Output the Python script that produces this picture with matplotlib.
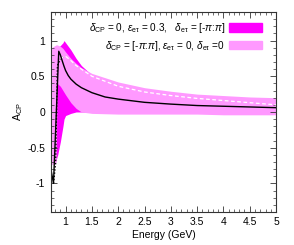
import numpy as np
import matplotlib.pyplot as plt
from matplotlib.ticker import MultipleLocator
from matplotlib.patches import Patch

plt.rcParams['font.family'] = ['Liberation Sans', 'DejaVu Sans']
plt.rcParams['mathtext.fontset'] = 'custom'
plt.rcParams['mathtext.rm'] = 'Liberation Sans'
plt.rcParams['mathtext.it'] = 'Liberation Sans:italic'

# band 1: delta_CP = 0, eps = 0.3, delta_et over [-pi:pi]  (dark magenta)
e_dark = [0.78, 0.80, 0.85, 0.90, 0.95, 0.97, 1.00, 1.10, 1.20, 1.30, 1.45, 1.60, 2.0, 3.0, 4.0, 5.0]
dark_lo = [-0.74, -0.72, -0.60, -0.42, -0.20, -0.10, -0.05, -0.02, 0.0, 0.0, 0.0, 0.0, 0.0, 0.0, 0.0, 0.0]
dark_hi = [0.80, 0.85, 0.90, 0.93, 0.97, 1.00, 0.97, 0.87, 0.75, 0.65, 0.55, 0.48, 0.38, 0.25, 0.19, 0.15]

# band 2: delta_CP over [-pi:pi], eps = 0, delta_et = 0  (light pink)
e_light = [0.735, 0.75, 0.80, 0.82, 0.84, 0.90, 0.95, 1.00, 1.10, 1.20, 1.30, 1.50, 2.0, 2.5, 3.0, 3.5, 4.0, 4.5, 5.0]
light_lo = [-0.74, -0.73, -0.72, -0.70, 0.40, 0.36, 0.30, 0.24, 0.13, 0.05, 0.0, -0.02, -0.03, -0.03, -0.03, -0.03, -0.04, -0.04, -0.04]
light_hi = [0.88, 0.91, 0.93, 0.94, 0.94, 0.92, 0.89, 0.84, 0.75, 0.68, 0.62, 0.54, 0.42, 0.34, 0.29, 0.25, 0.23, 0.21, 0.20]

# standard curve (black)
e_std = [0.72, 0.77, 0.87, 0.90, 0.93, 0.97, 1.00, 1.05, 1.10, 1.20, 1.30, 1.50, 1.75, 2.0, 2.5, 3.0, 3.5, 4.0, 4.5, 5.0]
a_std = [-0.80, -1.00, 0.85, 0.80, 0.73, 0.64, 0.58, 0.51, 0.46, 0.39, 0.34, 0.27, 0.21, 0.18, 0.135, 0.11, 0.09, 0.08, 0.07, 0.06]

# central curve (white dashed), steep rise shown black dotted
e_rise = [0.77, 0.81, 0.845, 0.90, 0.95]
a_rise = [-1.00, -0.72, 0.65, 0.74, 0.77]
e_mid = [0.90, 0.95, 1.00, 1.10, 1.20, 1.50, 2.0, 2.5, 3.0, 3.5, 4.0, 4.5, 5.0]
a_mid = [0.74, 0.77, 0.78, 0.72, 0.65, 0.50, 0.36, 0.28, 0.23, 0.19, 0.16, 0.13, 0.10]

dark_col = '#ff00ff'
light_col = '#ff99ff'

fig = plt.figure(figsize=(2.94, 2.45), dpi=100)
ax = fig.add_axes([0.173, 0.135, 0.766, 0.816])

ax.fill_between(e_dark, dark_lo, dark_hi, color=dark_col, lw=0)
ax.fill_between(e_light, light_lo, light_hi, color=light_col, lw=0)
ax.plot(e_rise, a_rise, color='black', lw=1.0, ls=(0, (1, 1.3)))
ax.plot(e_mid, a_mid, color='white', lw=0.9, ls=(0, (3, 2)))
ax.plot(e_std, a_std, color='black', lw=1.0)

ax.set_xlim(0.72, 5)
ax.set_ylim(-1.4, 1.4)
ax.xaxis.set_minor_locator(MultipleLocator(0.1))
ax.yaxis.set_minor_locator(MultipleLocator(0.1))
ax.set_xticks([1, 1.5, 2, 2.5, 3, 3.5, 4, 4.5, 5])
ax.set_xticklabels(['1', '1.5', '2', '2.5', '3', '3.5', '4', '4.5', '5'])
ax.set_yticks([-1, -0.5, 0, 0.5, 1])
ax.set_yticklabels(['-1', '-0.5', '0', '0.5', '1'])
ax.tick_params(which='both', direction='in', top=True, right=True, labelsize=7.5, colors='#333333', pad=4)
ax.tick_params(which='major', length=4, width=0.6)
ax.tick_params(which='minor', length=2, width=0.5)
ax.tick_params(labelcolor='black')
for s in ax.spines.values():
    s.set_linewidth(0.8)
    s.set_color('#333333')

ax.set_xlabel('Energy (GeV)', fontsize=7.5, labelpad=2)
ax.set_ylabel(r'A$_{\rm CP}$', fontsize=7.5, labelpad=2)

handles = [Patch(color=dark_col), Patch(color=light_col)]
labels = [r'$\delta_{\rm CP}$ = 0, $\varepsilon_{\rm e\tau}$ = 0.3,   $\delta_{\rm e\tau}$ = [-$\pi$:$\pi$]',
          r'$\delta_{\rm CP}$ = [-$\pi$:$\pi$], $\varepsilon_{\rm e\tau}$ = 0, $\delta_{\rm e\tau}$ =0']
ax.legend(handles, labels, loc='upper right', bbox_to_anchor=(0.965, 0.985), frameon=False,
          markerfirst=False, fontsize=7.2, handlelength=3.3, handleheight=0.9,
          borderaxespad=0.2, labelspacing=0.35, handletextpad=0.4)

fig.savefig('out.png', dpi=100)
